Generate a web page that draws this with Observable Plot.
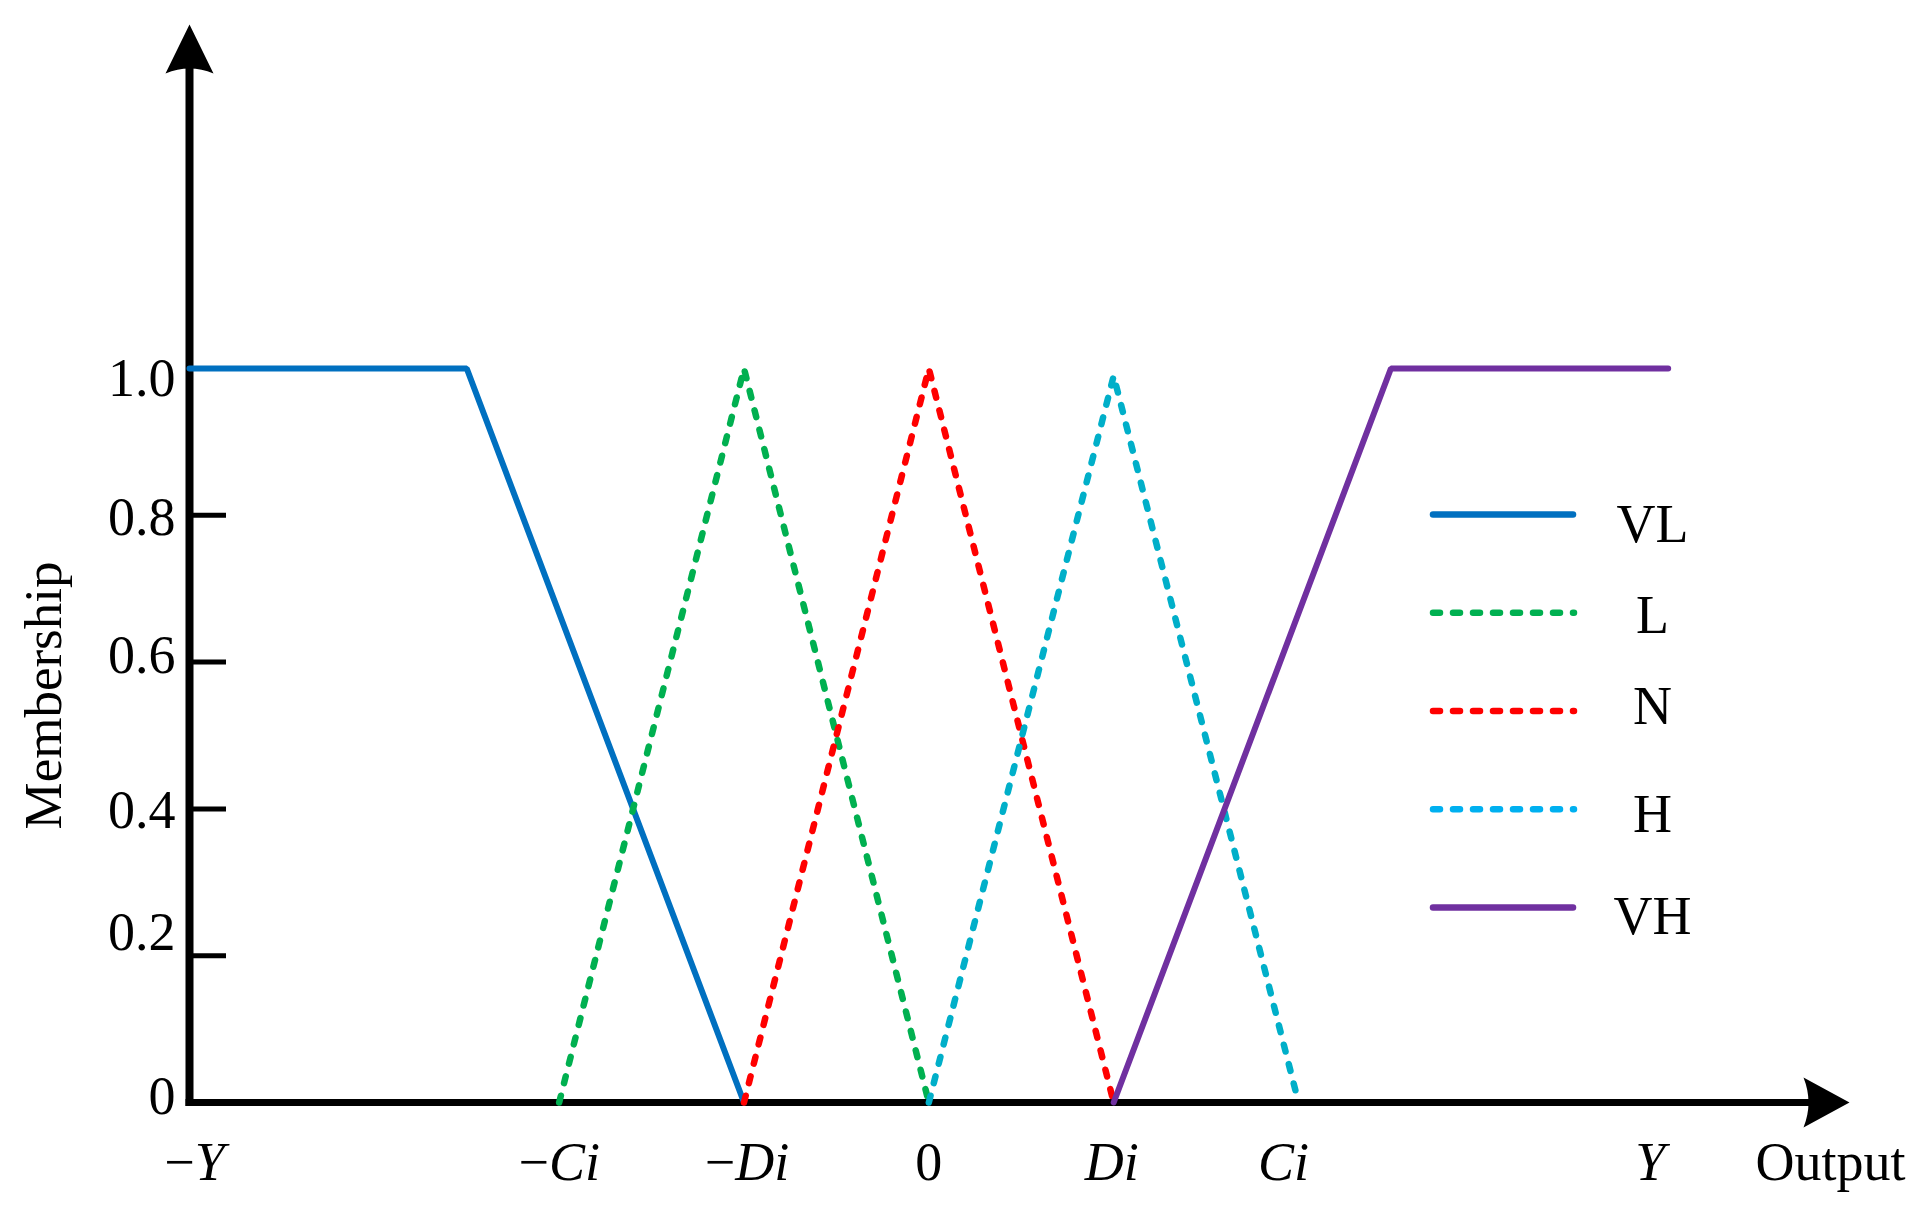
<!DOCTYPE html>
<html><head><meta charset="utf-8">
<script src="https://cdn.jsdelivr.net/npm/d3@7"></script>
<script src="https://cdn.jsdelivr.net/npm/@observablehq/plot@0.6"></script>
<style>html,body{margin:0;padding:0;background:#fff;} svg{display:block}</style>
</head><body><div id="chart"></div>
<script>
// ---- data ----
const xTickValues = [-4, -2, -1, 0, 1, 2, 4];
const xTickLabels = ["−Y", "−Ci", "−Di", "0", "Di", "Ci", "Y"];
const yTickValues = [0, 0.2, 0.4, 0.6, 0.8, 1.0];
const yTickLabels = ["0", "0.2", "0.4", "0.6", "0.8", "1.0"];
const seriesNames = ["VL", "L", "N", "H", "VH"];
const vlX = [-4, -2.5, -1], vlY = [1, 1, 0];
const lX = [-2, -1, 0],     lY = [0, 1, 0];
const nX = [-1, 0, 1],      nY = [0, 1, 0];
const hX = [0, 1, 2],       hY = [0, 0.99, 0];
const vhX = [1, 2.5, 4],    vhY = [0, 1, 1];
const lineColors   = ["#0070C0", "#00B050", "#FF0000", "#00AFC9", "#7030A0"];
const legendColors = ["#0070C0", "#00B050", "#FF0000", "#00B0F0", "#7030A0"];
const dashedSeries = [false, true, true, true, false];
const yLabel = "Membership";
const xLabel = "Output";

// ---- layout ----
const W = 1920, H = 1230;
const mL = 189, mR = 110, mT = 70, mB = 128;
const xDomain = [-4, 4.77], yDomain = [0, 1.406];
const unitX = (W - mL - mR) / (xDomain[1] - xDomain[0]);
const unitY = (H - mT - mB) / (yDomain[1] - yDomain[0]);
const px2x = p => xDomain[0] + (p - mL) / unitX;
const px2y = p => (H - mB - p) / unitY;
const FONT = "'Liberation Serif', 'Times New Roman', Times, serif";
const FS = 54;
// per-label pixel nudges (as placed in the original figure)
const yLabelDy = [11, -6, 19, 11, 20, 27];
const xLabelDx = [5, 0, 3, 0, -2, -15, -18];
const legendLabelDy = [27, 20, 13, 23, 26];

const xsList = [vlX, lX, nX, hX, vhX];
const ysList = [vlY, lY, nY, hY, vhY];
const table = seriesNames.map((name, i) =>
  xsList[i].map((x, j) => ({series: name, x, y: ysList[i][j]})));

const legendRows = seriesNames.map((name, i) => ({
  name, i, y: px2y(514 + i * 98.25),
  x1: px2x(1433), x2: px2x(dashedSeries[i] ? 1574 : 1573)
}));

const arrowRight = {draw(ctx) { ctx.moveTo(39, 0); ctx.lineTo(-7, -25); ctx.quadraticCurveTo(3, 0, -7, 25); ctx.closePath(); }};
const arrowUp = {draw(ctx) { ctx.moveTo(0, -46); ctx.lineTo(24, 3); ctx.quadraticCurveTo(0, -7, -24, 3); ctx.closePath(); }};

const seriesMarks = table.map((rows, i) => Plot.line(rows, {
  x: "x", y: "y", stroke: lineColors[i], strokeWidth: dashedSeries[i] ? 6.5 : 6,
  strokeDasharray: dashedSeries[i] ? "7,13" : null,
  strokeLinecap: "round", strokeLinejoin: "miter"
}));

const legendMarks = legendRows.flatMap(r => [
  Plot.ruleY([r], {y: "y", x1: "x1", x2: "x2", stroke: legendColors[r.i], strokeWidth: 6.5,
    strokeLinecap: "round", strokeDasharray: dashedSeries[r.i] ? "7,13" : null}),
  Plot.text([r], {x: px2x(1652), y: "y", text: "name", textAnchor: "middle", lineAnchor: "bottom",
    dy: legendLabelDy[r.i], fontSize: FS, fill: "black"})
]);

const yLabelMarks = yTickValues.map((v, i) =>
  Plot.text([v], {x: xDomain[0], y: d => d, text: () => yTickLabels[i],
    textAnchor: "end", lineAnchor: "bottom", dx: -14, dy: yLabelDy[i], fontSize: FS, fill: "black"}));

const xLabelMarks = xTickValues.map((v, i) =>
  Plot.text([v], {x: d => d, y: 0, text: () => xTickLabels[i],
    textAnchor: "middle", lineAnchor: "bottom", dx: xLabelDx[i], dy: 77, fontSize: FS, fill: "black"}));

const chart = Plot.plot({
  width: W, height: H,
  marginLeft: mL, marginRight: mR, marginTop: mT, marginBottom: mB,
  x: {domain: xDomain, axis: null},
  y: {domain: yDomain, axis: null},
  style: {fontFamily: FONT, fontSize: FS + "px", color: "black", background: "white", overflow: "visible"},
  marks: [
    // axes
    Plot.ruleX([xDomain[0]], {y1: 0, y2: yDomain[1], stroke: "black", strokeWidth: 8, strokeLinecap: "square"}),
    Plot.ruleY([0], {x1: xDomain[0], x2: xDomain[1], stroke: "black", strokeWidth: 7, strokeLinecap: "square"}),
    Plot.ruleY(yTickValues.filter(v => v > 0), {x1: xDomain[0], x2: px2x(226), stroke: "black", strokeWidth: 5}),
    Plot.dot([0], {x: xDomain[1], y: 0, symbol: arrowRight, fill: "black", stroke: "none", r: 5}),
    Plot.dot([0], {x: xDomain[0], y: yDomain[1], symbol: arrowUp, fill: "black", stroke: "none", r: 5}),
    // tick labels
    ...yLabelMarks,
    ...xLabelMarks,
    Plot.text([xLabel], {x: xDomain[1], y: 0, text: d => d, textAnchor: "middle", lineAnchor: "bottom",
      dx: 20, dy: 77, fontSize: FS, fill: "black"}),
    Plot.text([yLabel], {x: xDomain[0], y: px2y(695), text: d => d, rotate: -90, textAnchor: "middle",
      lineAnchor: "middle", dx: -145, fontSize: 53, fill: "black"}),
    // series
    ...seriesMarks,
    // legend
    ...legendMarks
  ]
});

// italic letters in the x tick labels
const italicSet = new Set(xTickLabels.filter(s => /[A-Za-z]/.test(s)));
d3.select(chart).selectAll("text").each(function() {
  const t = this.textContent;
  if (!italicSet.has(t)) return;
  const sel = d3.select(this);
  sel.text(null);
  const m = t.match(/^(−?)(.*)$/);
  if (m[1]) sel.append("tspan").text(m[1]);
  sel.append("tspan").attr("font-style", "italic").text(m[2]);
});

document.getElementById("chart").append(chart);
</script>
</body></html>
